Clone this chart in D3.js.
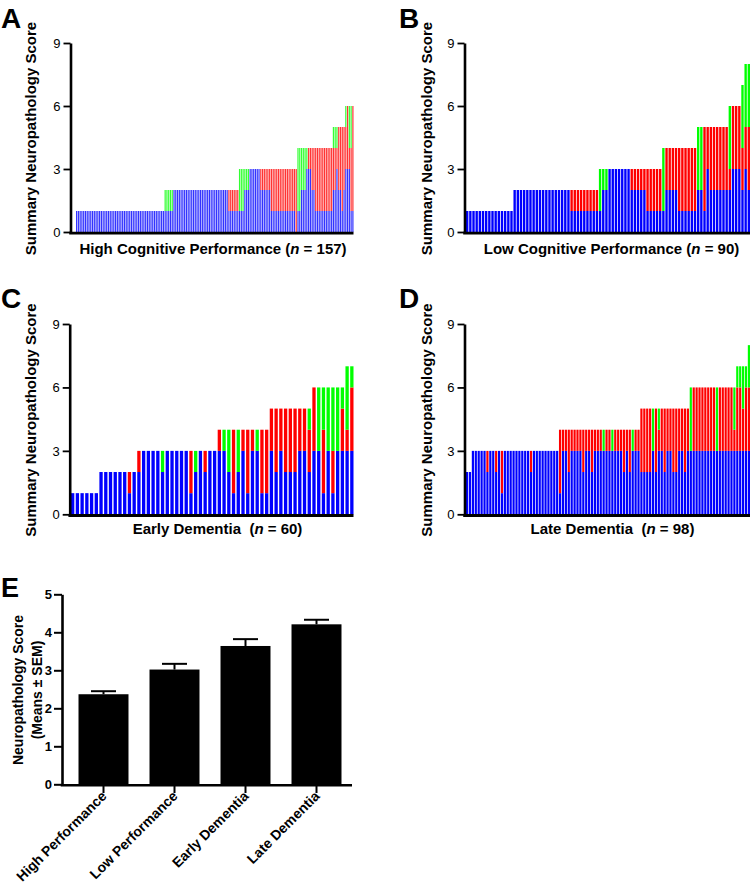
<!DOCTYPE html>
<html><head><meta charset="utf-8">
<script src="https://cdn.jsdelivr.net/npm/d3@7"></script>
<style>
body{margin:0;background:#fff}
svg{display:block}
text{font-family:"Liberation Sans",Arial,Helvetica,sans-serif}
</style>
</head><body>
<svg id="c" width="750" height="893"></svg>
<script>
// ---------- Panel A: High Cognitive Performance (n = 157) ----------
const blueA = [
 1,1,1,1,1,1,1,1,1,1, 1,1,1,1,1,1,1,1,1,1, 1,1,1,1,1,1,1,1,1,1, 1,1,1,1,1,1,1,1,1,1, 1,1,1,1,1,1,1,1,1,1,
 1,1,1,1,1,
 2,2,2,2,2,2,2,2,2,2, 2,2,2,2,2,2,2,2,2,2, 2,2,2,2,2,2,2,2,2,2, 2,
 1,1,1,1,1,1,
 1,1,1, 2,2,2,
 3,3,3,3,3,3,
 2,2,2,2,2,2,
 1,1,1,1,1,1,1,1,1,1,1,1,1,1,
 0,
 1,1,2,2,2,3,3,3,2,2,1,1,1,1,1,1,1,1,1,1,
 2,2,3,2,2,1,2,
 3,3,3,1,1
];
const redA = [
 0,0,0,0,0,0,0,0,0,0, 0,0,0,0,0,0,0,0,0,0, 0,0,0,0,0,0,0,0,0,0, 0,0,0,0,0,0,0,0,0,0, 0,0,0,0,0,0,0,0,0,0,
 0,0,0,0,0,
 0,0,0,0,0,0,0,0,0,0, 0,0,0,0,0,0,0,0,0,0, 0,0,0,0,0,0,0,0,0,0, 0,
 1,1,1,1,1,1,
 0,0,0, 0,0,0,
 0,0,0,0,0,0,
 1,1,1,1,1,1,
 2,2,2,2,2,2,2,2,2,2,2,2,2,2,
 3,
 0,0,0,0,0,0,1,1,2,2,3,3,3,3,3,3,3,3,3,3,
 2,2,1,3,3,4,3,
 2,3,1,3,5
];
const greenA = [
 0,0,0,0,0,0,0,0,0,0, 0,0,0,0,0,0,0,0,0,0, 0,0,0,0,0,0,0,0,0,0, 0,0,0,0,0,0,0,0,0,0, 0,0,0,0,0,0,0,0,0,0,
 1,1,1,1,1,
 0,0,0,0,0,0,0,0,0,0, 0,0,0,0,0,0,0,0,0,0, 0,0,0,0,0,0,0,0,0,0, 0,
 0,0,0,0,0,0,
 2,2,2, 1,1,1,
 0,0,0,0,0,0,
 0,0,0,0,0,0,
 0,0,0,0,0,0,0,0,0,0,0,0,0,0,
 0,
 3,3,2,2,2,1,0,0,0,0,0,0,0,0,0,0,0,0,0,0,
 1,1,1,0,0,0,0,
 1,0,2,2,0
];

// ---------- Panel B: Low Cognitive Performance (n = 90) ----------
const blueB = [
 1,1,1,1,1,1,1,1,1,1,1,1,1,1,1,
 2,2,2,2,2,2,2,2,2,2,2,2,2,2,2,2,2,2,
 1,1,1,1,1,1,1,1,1,
 1,2,2,
 3,3,3,3,3,3,3,
 2,2,2,2,2,
 1,1,1,1,1,
 1,2,2,2,2,1,1,1,1,1,1,
 2,2,1,3,2,2,2,2,2,2,
 2,3,3,3,
 2,
 3,2
];
const redB = [
 0,0,0,0,0,0,0,0,0,0,0,0,0,0,0,
 0,0,0,0,0,0,0,0,0,0,0,0,0,0,0,0,0,0,
 1,1,1,1,1,1,1,1,1,
 0,0,0,
 0,0,0,0,0,0,0,
 1,1,1,1,1,
 2,2,2,2,2,
 0,2,2,2,2,3,3,3,3,3,3,
 0,0,4,2,3,3,3,3,3,3,
 1,3,3,3,
 2,
 2,3
];
const greenB = [
 0,0,0,0,0,0,0,0,0,0,0,0,0,0,0,
 0,0,0,0,0,0,0,0,0,0,0,0,0,0,0,0,0,0,
 0,0,0,0,0,0,0,0,0,
 2,1,1,
 0,0,0,0,0,0,0,
 0,0,0,0,0,
 0,0,0,0,0,
 3,0,0,0,0,0,0,0,0,0,0,
 3,3,0,0,0,0,0,0,0,0,
 3,0,0,0,
 3,
 3,3
];

// ---------- Panel C: Early Dementia (n = 60) ----------
const blueC = [
 1,1,1,1,1,1, 2,2,2,2,2,2, 1,2,2, 3,3,3,3, 2, 3,3,3,3,3, 1,2,3,2,3,3,
 3,3,2,1,2,3,1,3,3,1,1,
 3,2,3,2,2,2,3,3,2,
 3,3,1,3,1,3,3,
 3,3
];
const redC = [
 0,0,0,0,0,0, 0,0,0,0,0,0, 1,0,1, 0,0,0,0, 0, 0,0,0,0,0, 2,0,0,1,0,0,
 1,0,0,3,0,1,3,1,0,3,3,
 2,3,2,3,3,3,2,2,2,
 3,0,3,0,2,0,2,
 1,3
];
const greenC = [
 0,0,0,0,0,0, 0,0,0,0,0,0, 0,0,0, 0,0,0,0, 1, 0,0,0,0,0, 0,1,0,0,0,0,
 0,1,2,0,2,0,0,0,1,0,0,
 0,0,0,0,0,0,0,0,1,
 0,3,2,3,3,3,1,
 3,1
];

// ---------- Panel D: Late Dementia (n = 98) ----------
const blueD = [
 2,2,
 3,3,3,3,3,2,3,3,2,3,1,3,3,3,3,3,3,3,3,3,2,3,3,3,3,3,3,3,3,3,
 1,3,3,2,3,3,3,3,2,3,3,2,3,3,3,3,3,3,3,3,3,3,2,3,2,3,3,3,
 2,2,2,2,3,2,3,3,2,3,3,2,2,3,3,2,3,
 3,3,3,3,3,3,3,3,3,3,3,3,3,3,3,3,
 3,3,3,3,
 3
];
const redD = [
 0,0,
 0,0,0,0,0,1,0,0,1,0,2,0,0,0,0,0,0,0,0,0,1,0,0,0,0,0,0,0,0,0,
 3,1,1,2,1,1,1,1,2,1,1,2,1,1,1,0,1,1,0,1,1,1,2,1,2,0,1,1,
 3,3,3,3,0,3,1,2,3,2,2,3,3,2,2,3,2,
 0,3,3,3,3,3,3,3,3,0,3,3,3,3,3,1,
 3,3,2,3,
 3
];
const greenD = [
 0,0,
 0,0,0,0,0,0,0,0,0,0,0,0,0,0,0,0,0,0,0,0,0,0,0,0,0,0,0,0,0,0,
 0,0,0,0,0,0,0,0,0,0,0,0,0,0,0,1,0,0,1,0,0,0,0,0,0,1,0,0,
 0,0,0,0,2,0,1,0,0,0,0,0,0,0,0,0,0,
 3,0,0,0,0,0,0,0,0,3,0,0,0,0,0,2,
 1,1,2,1,
 2
];
const yTicksStack = [0, 3, 6, 9];

// ---------- Panel E: means ± SEM ----------
const groupsE = ["High Performance", "Low Performance", "Early Dementia", "Late Dementia"];
const meansE = [2.37, 3.02, 3.64, 4.21];
const semE = [0.08, 0.15, 0.18, 0.12];
const yTicksE = [0, 1, 2, 3, 4, 5];

const svg = d3.select('#c');
const colors = {b: '#0000ff', r: '#ff0000', gr: '#00ff00'};

function panel(o) {
  const n = o.blue.length;
  const rows = o.blue.map((b, i) => ({i, b, r: o.red[i], gr: o.green[i]}));
  const x = d3.scaleBand().domain(d3.range(n)).range([o.x0, o.x1]).paddingInner(o.pad).paddingOuter(0);
  const y = d3.scaleLinear().domain([0, 9]).range([o.yBase, o.yTop]);
  const series = d3.stack().keys(['b', 'r', 'gr'])(rows);
  const g = svg.append('g');
  g.append('g').attr('fill-opacity', o.op).selectAll('g').data(series).join('g').attr('fill', s => colors[s.key])
    .selectAll('rect').data(s => s.filter(d => d[1] > d[0])).join('rect')
    .attr('x', d => x(d.data.i)).attr('width', x.bandwidth())
    .attr('y', d => y(d[1])).attr('height', d => y(d[0]) - y(d[1]));
  const ax = g.append('g').attr('transform', `translate(${o.axisX},0)`)
    .call(d3.axisLeft(y).tickValues(yTicksStack).tickSize(7).tickSizeOuter(0).tickPadding(3));
  ax.select('.domain').attr('stroke-width', 2.6);
  ax.selectAll('.tick line').attr('stroke-width', 1.8);
  ax.selectAll('.tick text').attr('font-size', 13).attr('fill', '#000')
    .style('font-family', '"Liberation Sans",Arial,sans-serif');
  g.append('line').attr('x1', o.axisX - 1.3).attr('x2', o.x1).attr('y1', o.yBase + 1.2).attr('y2', o.yBase + 1.2)
    .attr('stroke', '#000').attr('stroke-width', 2.8);
  g.append('text').attr('transform', `translate(${o.ylabX},${o.ylabY}) rotate(-90)`)
    .attr('text-anchor', 'middle').attr('font-size', 15).attr('font-weight', 'bold')
    .text('Summary Neuropathology Score');
  const t = g.append('text').attr('x', o.titleX).attr('y', o.titleY).attr('text-anchor', 'middle')
    .attr('font-size', 15).attr('font-weight', 'bold').style('white-space', 'pre');
  t.append('tspan').text(o.title + '(');
  t.append('tspan').attr('font-style', 'italic').text('n');
  t.append('tspan').text(' = ' + n + ')');
  g.append('text').attr('x', o.letterX).attr('y', o.letterY).attr('font-size', 28).attr('font-weight', 'bold').text(o.letter);
}

panel({blue: blueA, red: redA, green: greenA, x0: 76, x1: 353.5, pad: 0.32, op: 0.8, axisX: 70.5, yBase: 232, yTop: 43,
  ylabX: 36, ylabY: 138.5, titleX: 213, titleY: 253.5, title: 'High Cognitive Performance ', letter: 'A', letterX: 1, letterY: 28});
panel({blue: blueB, red: redB, green: greenB, x0: 466, x1: 750, pad: 0.25, op: 1, axisX: 464.5, yBase: 232, yTop: 43,
  ylabX: 432, ylabY: 138.5, titleX: 611.5, titleY: 253.5, title: 'Low Cognitive Performance ', letter: 'B', letterX: 399, letterY: 28});
panel({blue: blueC, red: redC, green: greenC, x0: 71, x1: 353.5, pad: 0.3, op: 1, axisX: 69.7, yBase: 514.3, yTop: 324,
  ylabX: 36, ylabY: 420, titleX: 217.5, titleY: 534, title: 'Early Dementia  ', letter: 'C', letterX: 1, letterY: 308});
panel({blue: blueD, red: redD, green: greenD, x0: 466, x1: 750, pad: 0.25, op: 1, axisX: 464.5, yBase: 514.3, yTop: 324,
  ylabX: 432, ylabY: 420, titleX: 612.5, titleY: 534, title: 'Late Dementia  ', letter: 'D', letterX: 399, letterY: 308});

// ---------- Panel E ----------
(function () {
  const xE = d3.scaleBand().domain(groupsE).range([68, 352]).paddingInner(0.296).paddingOuter(0.148);
  const yE = d3.scaleLinear().domain([0, 5]).range([784.3, 594.3]);
  const g = svg.append('g');
  const data = groupsE.map((k, i) => ({k, m: meansE[i], s: semE[i]}));
  g.selectAll('line.err').data(data).join('line').attr('class', 'err')
    .attr('x1', d => xE(d.k) + xE.bandwidth() / 2).attr('x2', d => xE(d.k) + xE.bandwidth() / 2)
    .attr('y1', d => yE(d.m)).attr('y2', d => yE(d.m + d.s)).attr('stroke', '#000').attr('stroke-width', 2);
  g.selectAll('line.cap').data(data).join('line').attr('class', 'cap')
    .attr('x1', d => xE(d.k) + xE.bandwidth() / 2 - 12.5).attr('x2', d => xE(d.k) + xE.bandwidth() / 2 + 12.5)
    .attr('y1', d => yE(d.m + d.s)).attr('y2', d => yE(d.m + d.s)).attr('stroke', '#000').attr('stroke-width', 2);
  g.selectAll('rect').data(data).join('rect')
    .attr('x', d => xE(d.k)).attr('width', xE.bandwidth())
    .attr('y', d => yE(d.m)).attr('height', d => yE(0) - yE(d.m)).attr('fill', '#000');
  const ay = g.append('g').attr('transform', 'translate(62,0)')
    .call(d3.axisLeft(yE).tickValues(yTicksE).tickFormat(d3.format('d')).tickSize(8).tickSizeOuter(0).tickPadding(2));
  ay.select('.domain').attr('stroke-width', 2.6);
  ay.selectAll('.tick line').attr('stroke-width', 2);
  ay.selectAll('.tick text').attr('font-size', 13).attr('font-weight', 'bold').attr('fill', '#000')
    .style('font-family', '"Liberation Sans",Arial,sans-serif');
  const axx = g.append('g').attr('transform', 'translate(0,785)')
    .call(d3.axisBottom(xE).tickSize(8).tickSizeOuter(0).tickFormat(''));
  axx.select('.domain').remove();
  axx.selectAll('.tick line').attr('stroke-width', 2);
  g.append('line').attr('x1', 60.7).attr('x2', 352).attr('y1', 785.3).attr('y2', 785.3).attr('stroke', '#000').attr('stroke-width', 2.6);
  g.selectAll('text.xl').data(groupsE).join('text').attr('class', 'xl')
    .attr('transform', d => `translate(${xE(d) + xE.bandwidth() / 2 + 4},797) rotate(-45)`)
    .attr('text-anchor', 'end').attr('font-size', 14).attr('font-weight', 'bold').text(d => d);
  const yl = g.append('text').attr('transform', 'translate(0,690) rotate(-90)')
    .attr('text-anchor', 'middle').attr('font-size', 14).attr('font-weight', 'bold');
  yl.append('tspan').attr('x', 0).attr('y', 23).text('Neuropathology Score');
  yl.append('tspan').attr('x', 0).attr('y', 42).text('(Means \u00B1 SEM)');
  g.append('text').attr('x', 1).attr('y', 597).attr('font-size', 27).attr('font-weight', 'bold').text('E');
})();
</script>
</body></html>
